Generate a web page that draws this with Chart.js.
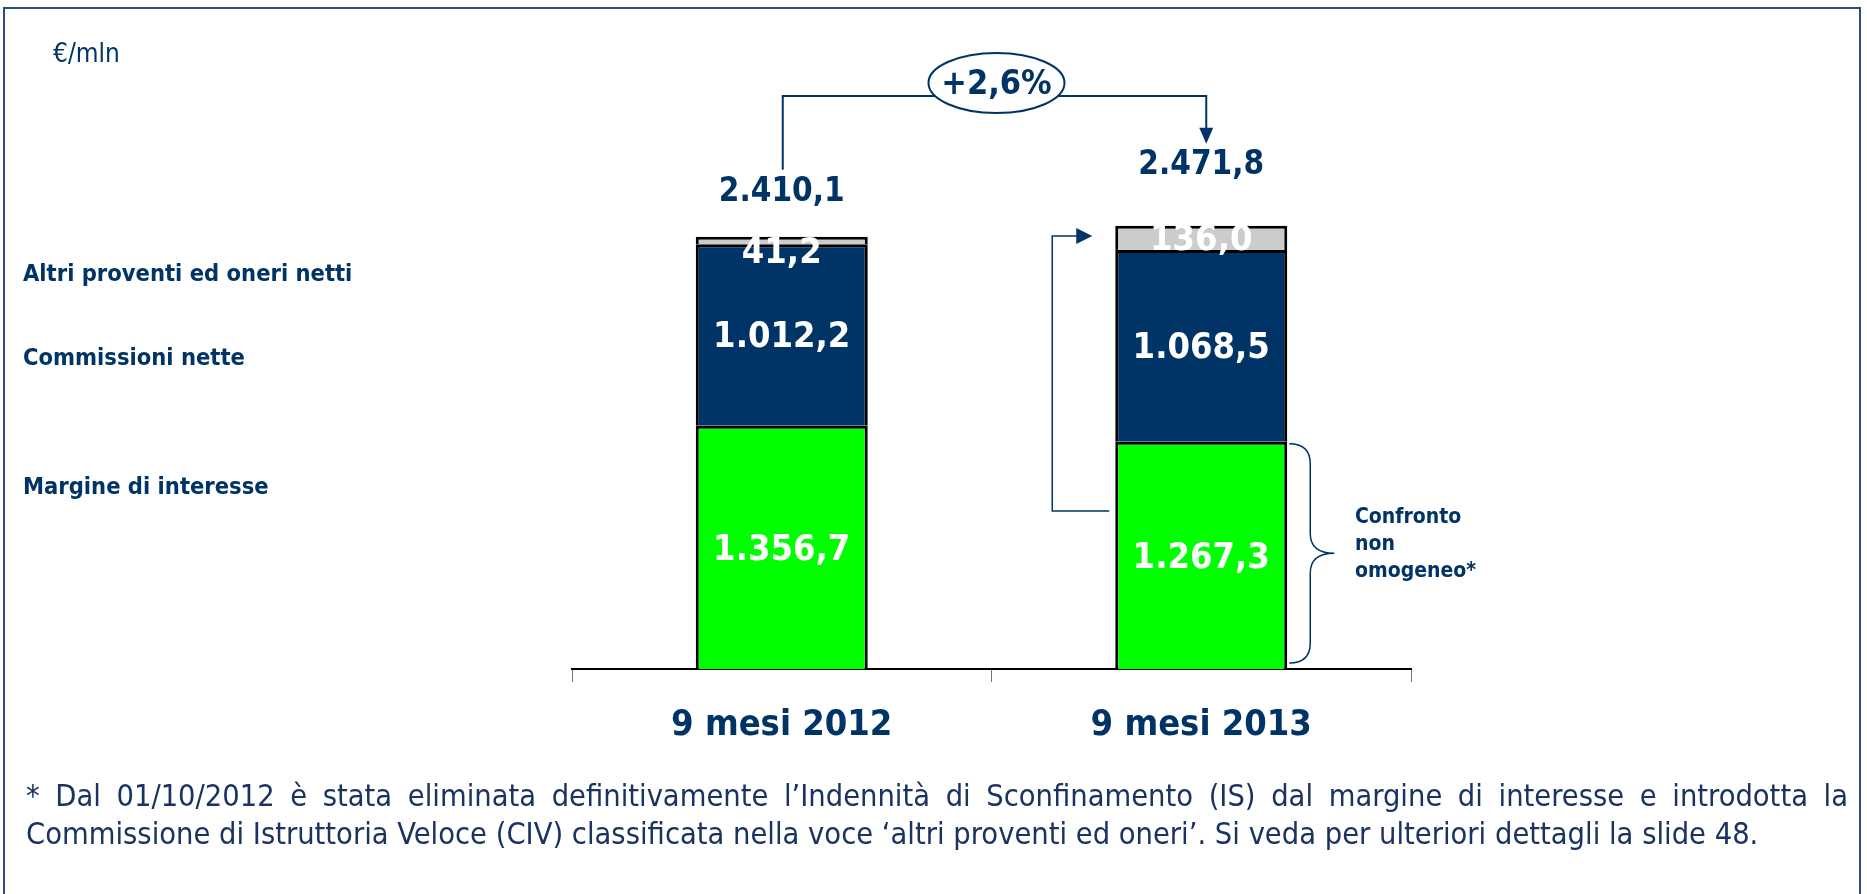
<!DOCTYPE html>
<html>
<head>
<meta charset="utf-8">
<script src="https://cdn.jsdelivr.net/npm/chart.js@4.4.1/dist/chart.umd.min.js"></script>
<style>
  html, body { margin: 0; padding: 0; background: #fff; }
  body { width: 1867px; height: 894px; position: relative; overflow: hidden; }
  #frame { position: absolute; left: 3px; top: 7px; width: 1858px; height: 900px; box-sizing: border-box; border: 2px solid #2b4c7e; }
  #graph { position: absolute; left: 0; top: 0; }
  .note { position: absolute; left: 26px; width: 1822px; color: #1b3361; font-family: 'DejaVu Sans Condensed', 'DejaVu Sans', sans-serif; font-size: 30.5px; line-height: 38px; white-space: nowrap; }
  #note1 { top: 777px; text-align: justify; text-align-last: justify; white-space: normal; }
  #note2 { top: 815px; }
</style>
</head>
<body>
<div id="frame"></div>
<canvas id="graph" width="1867" height="894"></canvas>
<div class="note" id="note1">* Dal 01/10/2012 è stata eliminata definitivamente l’Indennità di Sconfinamento (IS) dal margine di interesse e introdotta la</div>
<div class="note" id="note2">Commissione di Istruttoria Veloce (CIV) classificata nella voce ‘altri proventi ed oneri’. Si veda per ulteriori dettagli la slide 48.</div>
<script>
// data
const categories = ['9 mesi 2012', '9 mesi 2013']
const seriesNames = ['Margine di interesse', 'Commissioni nette', 'Altri proventi ed oneri netti']
const margine = [1356.7, 1267.3]
const commissioni = [1012.2, 1068.5]
const altri = [41.2, 136.0]
const totals = [2410.1, 2471.8]
const variation = '+2,6%'
const unitLabel = '€/mln'
const noteLines = ['Confronto', 'non', 'omogeneo*']

const NAVY = '#003366'
const FONT = "'DejaVu Sans Condensed', 'DejaVu Sans', sans-serif"

// italian number format 1.356,7
function fmt(v) {
  let p = v.toFixed(1).split('.')
  return p[0].replace(/\B(?=(\d{3})+(?!\d))/g, '.') + ',' + p[1]
}

function arrowHead(ctx, x, y, dir) {
  ctx.beginPath()
  if (dir == 'down') {
    ctx.moveTo(x, y); ctx.lineTo(x - 7, y - 16); ctx.lineTo(x + 7, y - 16)
  } else {
    ctx.moveTo(x, y); ctx.lineTo(x - 16, y - 8); ctx.lineTo(x - 16, y + 8)
  }
  ctx.closePath()
  ctx.fill()
}

const annot = {
  id: 'annot',
  afterDatasetsDraw(chart) {
    const ctx = chart.ctx
    ctx.save()
    ctx.textAlign = 'center'
    ctx.textBaseline = 'middle'

    // values inside the segments
    chart.data.datasets.forEach((ds, i) => {
      chart.getDatasetMeta(i).data.forEach((bar, j) => {
        let h = bar.base - bar.y
        let cy = h < 15 ? bar.y + 17 : (bar.y + bar.base) / 2 + 3
        ctx.fillStyle = '#fff'
        ctx.font = 'bold 36px ' + FONT
        ctx.fillText(fmt(ds.data[j]), bar.x, cy)
      })
    })

    // totals above bars
    const topMeta = chart.getDatasetMeta(chart.data.datasets.length - 1)
    const yScale = chart.scales.y
    const lift = [44, 60]
    let pos = []
    totals.forEach((t, j) => {
      let bar = topMeta.data[j]
      let y = yScale.getPixelForValue(t) - lift[j]
      pos.push({ x: bar.x, y: y })
      ctx.fillStyle = NAVY
      ctx.font = 'bold 33px ' + FONT
      ctx.fillText(fmt(t), bar.x, y)
    })

    // variation bracket
    ctx.strokeStyle = NAVY
    ctx.fillStyle = NAVY
    ctx.lineWidth = 2
    let lineY = 96
    let x1 = pos[0].x + 1, x2 = pos[1].x + 5
    ctx.beginPath()
    ctx.moveTo(x1, pos[0].y - 23)
    ctx.lineTo(x1, lineY)
    ctx.lineTo(x2, lineY)
    ctx.lineTo(x2, pos[1].y - 30)
    ctx.stroke()
    arrowHead(ctx, x2, pos[1].y - 22, 'down')

    let ex = (x1 + x2) / 2 + 2, ey = 83
    ctx.beginPath()
    ctx.ellipse(ex, ey, 68, 30, 0, 0, Math.PI * 2)
    ctx.fillStyle = '#fff'
    ctx.fill()
    ctx.stroke()
    ctx.fillStyle = NAVY
    ctx.font = 'bold 34px ' + FONT
    ctx.fillText(variation, ex, ey + 2)

    // arrow from margine 2013 to altri proventi 2013
    const b2 = chart.getDatasetMeta(0).data[1]
    const g2 = chart.getDatasetMeta(2).data[1]
    let left = b2.x - b2.width / 2
    ctx.lineWidth = 1.5
    ctx.beginPath()
    ctx.moveTo(left - 6, 511)
    ctx.lineTo(left - 63, 511)
    ctx.lineTo(left - 63, (g2.y + g2.base) / 2 - 2)
    ctx.lineTo(left - 30, (g2.y + g2.base) / 2 - 2)
    ctx.stroke()
    arrowHead(ctx, left - 23, (g2.y + g2.base) / 2 - 2, 'right')

    // curly brace next to margine 2013
    let right = b2.x + b2.width / 2 + 2
    let top = b2.y + 2, bot = b2.base - 6, mid = (top + bot) / 2
    let bx = right + 21, tip = right + 45, r = 20
    ctx.lineWidth = 1.5
    ctx.beginPath()
    ctx.moveTo(right, top)
    ctx.quadraticCurveTo(bx, top, bx, top + r)
    ctx.lineTo(bx, mid - r)
    ctx.quadraticCurveTo(bx, mid, tip, mid)
    ctx.quadraticCurveTo(bx, mid, bx, mid + r)
    ctx.lineTo(bx, bot - r)
    ctx.quadraticCurveTo(bx, bot, right, bot)
    ctx.stroke()

    ctx.textAlign = 'left'
    ctx.font = 'bold 21px ' + FONT
    noteLines.forEach((t, k) => ctx.fillText(t, 1355, 518 + k * 27))

    // series names on the left
    const nameY = [488, 359, 275]
    ctx.font = 'bold 23.5px ' + FONT
    seriesNames.forEach((n, k) => ctx.fillText(n, 23, nameY[k]))

    ctx.font = '26px ' + FONT
    ctx.fillText(unitLabel, 53, 55)
    ctx.restore()
  }
}

const chart = new Chart(
  document.getElementById('graph'),
  {
    type: 'bar',
    data: {
      labels: categories,
      datasets: [
        { label: seriesNames[0], data: margine, backgroundColor: '#00ff00' },
        { label: seriesNames[1], data: commissioni, backgroundColor: NAVY },
        { label: seriesNames[2], data: altri, backgroundColor: '#cccccc' }
      ]
    },
    options: {
      responsive: false,
      animation: false,
      layout: { padding: { left: 572, right: 456, top: 131, bottom: 0 } },
      datasets: {
        bar: {
          barPercentage: 0.41,
          categoryPercentage: 1,
          borderColor: '#000',
          borderWidth: { top: 3, left: 3, right: 3, bottom: 0 },
          borderSkipped: false
        }
      },
      plugins: {
        legend: { display: false },
        tooltip: { enabled: false }
      },
      scales: {
        x: {
          stacked: true,
          border: { color: '#000', width: 2 },
          grid: { drawOnChartArea: false, color: '#777', tickLength: 13, offset: true },
          ticks: { color: NAVY, padding: 22, font: { family: FONT, size: 36, weight: 'bold' } },
          afterFit: (scale) => { scale.height = 225 }
        },
        y: { stacked: true, display: false, min: 0, max: 3000 }
      }
    },
    plugins: [annot]
  }
)
</script>
</body>
</html>
